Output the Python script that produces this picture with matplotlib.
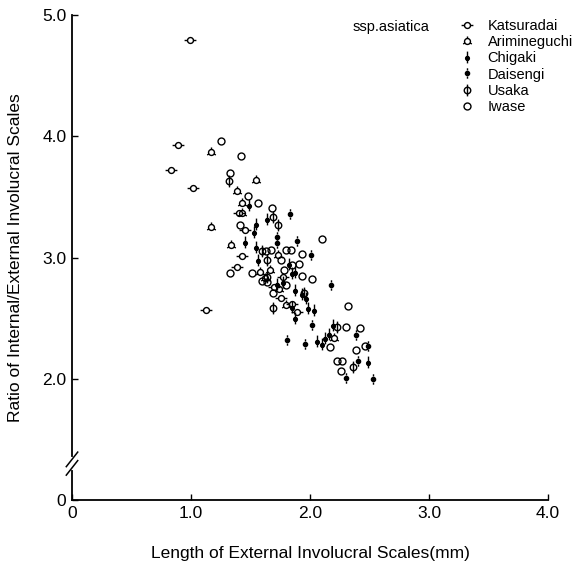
import numpy as np
import matplotlib
matplotlib.use("Agg")
import matplotlib.pyplot as plt
from matplotlib.path import Path

plt.rcParams['font.family'] = ['Liberation Sans', 'DejaVu Sans']

# ---- data ----
groups = ["Katsuradai", "Arimineguchi", "Chigaki", "Daisengi", "Usaka", "Iwase"]

katsuradai_x = [0.99, 0.89, 0.83, 1.02, 1.40, 1.45, 1.43, 1.39, 1.77, 1.76, 1.89, 1.85, 1.13, 1.70]
katsuradai_y = [4.79, 3.93, 3.72, 3.57, 3.37, 3.23, 3.01, 2.92, 2.84, 2.67, 2.55, 2.62, 2.57, 2.76]

arimineguchi_x = [1.17, 1.55, 1.39, 1.43, 1.43, 1.17, 1.34, 1.73, 1.58, 1.62, 1.80, 2.20, 1.66, 1.74]
arimineguchi_y = [3.87, 3.64, 3.55, 3.45, 3.37, 3.25, 3.10, 3.02, 2.88, 2.83, 2.61, 2.34, 2.90, 2.74]

chigaki_x = [1.49, 1.64, 1.55, 1.53, 1.45, 1.55, 1.56, 1.82, 1.87, 1.85, 1.77, 1.87, 1.97, 1.85,
             1.98, 2.03, 1.87, 2.19, 2.06, 2.10, 2.13, 2.16, 2.49, 1.72, 1.93]
chigaki_y = [3.43, 3.32, 3.28, 3.21, 3.13, 3.09, 2.98, 2.95, 2.88, 2.87, 2.80, 2.73, 2.67, 2.59,
             2.58, 2.57, 2.50, 2.44, 2.31, 2.29, 2.34, 2.37, 2.14, 2.78, 2.70]

daisengi_x = [1.83, 1.72, 1.72, 1.89, 2.01, 2.18, 2.02, 2.39, 1.96, 2.49, 2.40, 2.30, 2.53, 1.81]
daisengi_y = [3.36, 3.17, 3.12, 3.14, 3.02, 2.77, 2.44, 2.36, 2.29, 2.27, 2.15, 2.01, 2.00, 2.32]

usaka_x = [1.32, 1.69, 1.73, 1.64, 1.64, 1.95, 1.69, 2.23, 2.36, 1.60]
usaka_y = [3.63, 3.33, 3.27, 2.98, 2.84, 2.71, 2.58, 2.43, 2.10, 3.05]

iwase_x = [1.25, 1.42, 1.33, 1.48, 1.56, 1.68, 2.10, 1.63, 1.67, 1.80, 1.84, 1.93, 1.76, 1.85,
           1.91, 1.33, 1.51, 1.60, 1.64, 1.93, 2.02, 1.80, 1.69, 2.32, 2.30, 2.42, 2.17, 2.39,
           2.46, 2.23, 2.27, 2.26, 1.41, 1.78]
iwase_y = [3.96, 3.84, 3.70, 3.51, 3.45, 3.41, 3.15, 3.05, 3.06, 3.06, 3.06, 3.03, 2.98, 2.94,
           2.95, 2.87, 2.87, 2.81, 2.80, 2.85, 2.82, 2.77, 2.71, 2.60, 2.43, 2.42, 2.26, 2.24,
           2.27, 2.15, 2.15, 2.06, 3.27, 2.90]

xs = [katsuradai_x, arimineguchi_x, chigaki_x, daisengi_x, usaka_x, iwase_x]
ys = [katsuradai_y, arimineguchi_y, chigaki_y, daisengi_y, usaka_y, iwase_y]

x_ticks = [0, 1, 2, 3, 4]
x_ticklabels = ["0", "1.0", "2.0", "3.0", "4.0"]
y_ticks = [1, 2, 3, 4, 5]
y_ticklabels = ["0", "2.0", "3.0", "4.0", "5.0"]

# ---- custom markers ----
def circle(r, cx=0.0, cy=0.0):
    c = Path.unit_circle()
    return Path(c.vertices * r + np.array([cx, cy]), c.codes)

def seg(p0, p1):
    return Path([p0, p1], [Path.MOVETO, Path.LINETO])

frame = [seg((-1, 0), (-1, 0)), seg((1, 0), (1, 0)), seg((0, 1), (0, 1)), seg((0, -1), (0, -1))]

m_k = Path.make_compound_path(circle(0.5), seg((-1, 0), (-0.5, 0)), seg((0.5, 0), (1, 0)), *frame)
ticks = [seg((0.5 * np.cos(a), 0.5 * np.sin(a)), (0.85 * np.cos(a), 0.85 * np.sin(a)))
         for a in np.deg2rad([90, 210, 330])]
m_a = Path.make_compound_path(circle(0.5), *ticks, *frame)
m_c = Path.make_compound_path(seg((0, 1), (0, -1)), circle(0.32, 0, -0.15), *frame)
m_d = Path.make_compound_path(circle(0.4), seg((0, 0.6), (0, 1)), seg((0, -0.6), (0, -1)), *frame)
m_u = Path.make_compound_path(circle(0.55), seg((0, 1), (0, -1)), *frame)
m_i = Path.unit_circle()

styles = [
    dict(marker=m_k, ms=8.5, mfc='none'),
    dict(marker=m_a, ms=8.5, mfc='none'),
    dict(marker=m_c, ms=8.5, mfc='black'),
    dict(marker=m_d, ms=7.5, mfc='black'),
    dict(marker=m_u, ms=8.5, mfc='none'),
    dict(marker=m_i, ms=5.0, mfc='none'),
]

fig = plt.figure(figsize=(5.85, 5.66), dpi=100)
ax = fig.add_axes([72 / 585, 1 - 500 / 566, 476 / 585, 485 / 566])

handles = []
for g, x, y, st in zip(groups, xs, ys, styles):
    h, = ax.plot(x, y, linestyle='none', marker=st['marker'], markersize=st['ms'],
                 markerfacecolor=st['mfc'], markeredgecolor='black', markeredgewidth=1.0,
                 label=g)
    handles.append(h)

ax.set_xlim(0, 4.0)
ax.set_ylim(1.0, 5.0)
ax.set_xticks(x_ticks)
ax.set_xticklabels(x_ticklabels)
ax.set_yticks(y_ticks)
ax.set_yticklabels(y_ticklabels)
ax.tick_params(direction='in', length=4, width=1, labelsize=12.5, pad=4)
for s in ['top', 'right']:
    ax.spines[s].set_visible(False)
for s in ['left', 'bottom']:
    ax.spines[s].set_linewidth(1.3)

ax.set_xlabel("Length of External Involucral Scales(mm)", fontsize=12.5, labelpad=18)
ax.set_ylabel("Ratio of Internal/External Involucral Scales", fontsize=12.5, labelpad=14)

# axis break marks on the y axis
trans = ax.get_yaxis_transform()
yb = 1.30
ax.plot([0, 0], [yb - 0.04, yb + 0.04], color='white', lw=3, transform=trans, clip_on=False, zorder=5)
for off in (-0.035, 0.035):
    ax.plot([-0.012, 0.012], [yb + off - 0.06, yb + off + 0.06], color='black', lw=1.1,
            transform=trans, clip_on=False, zorder=6)

fig.text(353 / 585, 1 - 27 / 566, "ssp.asiatica", fontsize=10.5, va='center', ha='left')
leg = fig.legend(handles=handles, loc='upper left', bbox_to_anchor=(460 / 585, 1 - 19 / 566),
                 frameon=False, fontsize=10.5, handlelength=1.0, handletextpad=0.9,
                 labelspacing=0.15, borderpad=0, borderaxespad=0, numpoints=1)

fig.savefig("out.png", dpi=100)
